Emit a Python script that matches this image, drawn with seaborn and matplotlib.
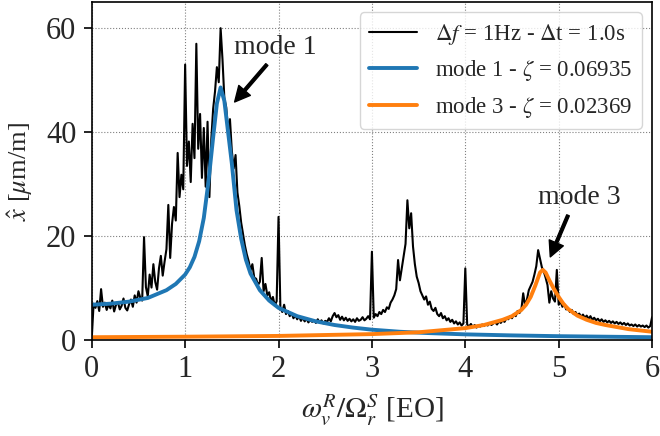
import numpy as np
import pandas as pd
import matplotlib
matplotlib.use("Agg")
import matplotlib.pyplot as plt
import seaborn as sns

# ---------------- data ----------------
# measured spectrum, sampled every 0.02 EO from 0 to 6
meas_amp = [
    0.3, 7.0, 6.2, 7.5, 5.6, 9.8, 6.4, 7.2, 5.8, 6.9,
    6.1, 7.6, 5.5, 6.8, 7.3, 5.9, 6.6, 8.0, 6.2, 5.7,
    6.9, 7.8, 6.4, 8.6, 7.2, 9.4, 8.1, 7.6, 19.8, 10.2,
    8.4, 12.6, 10.1, 14.6, 11.2, 9.7, 13.8, 16.2, 12.4, 15.1,
    17.5, 26.0, 15.8, 22.4, 25.6, 23.0, 36.0, 27.5, 31.8, 29.0,
    53.0, 33.5, 38.2, 30.4, 41.6, 35.0, 57.0, 36.8, 43.5, 31.2,
    40.8, 29.5, 42.0, 27.5, 38.6, 44.5, 47.8, 52.5, 49.6, 60.0,
    54.0, 46.5, 44.8, 40.2, 42.5, 36.4, 33.0, 35.6, 28.4, 25.8,
    22.6, 20.4, 18.2, 16.5, 15.2, 13.4, 14.6, 12.0, 11.8, 10.6,
    11.2, 15.8, 9.4, 10.8, 8.6, 9.2, 7.4, 8.3, 6.6, 7.5,
    23.7, 6.2, 5.4, 6.8, 5.0, 5.6, 4.6, 5.2, 4.2, 4.8,
    4.0, 4.6, 3.7, 4.3, 3.6, 4.1, 3.4, 3.9, 3.5, 3.8,
    3.3, 4.0, 3.4, 3.8, 3.2, 3.7, 3.5, 4.2, 3.6, 4.6,
    5.2, 4.4, 4.8, 3.9, 4.5, 3.8, 4.3, 3.7, 4.1, 3.6,
    4.0, 3.5, 4.2, 3.7, 3.9, 4.4, 3.8, 4.1, 4.6, 4.0,
    17.0, 4.3, 5.0, 4.6, 5.4, 5.0, 5.8, 5.4, 6.3, 6.0,
    7.2, 7.8, 8.6, 9.8, 15.4, 11.5, 13.8, 16.2, 18.5, 26.9,
    21.5, 24.4, 18.0, 14.6, 12.2, 11.0, 9.4, 8.6, 7.8, 8.4,
    6.8, 7.4, 6.0, 5.6, 6.2, 5.0, 4.6, 5.2, 4.2, 4.6,
    3.8, 4.2, 3.5, 3.9, 3.2, 3.6, 3.0, 3.4, 2.8, 3.2,
    13.8, 3.0, 2.6, 3.1, 2.5, 2.9, 2.4, 2.8, 2.6, 3.0,
    2.7, 3.1, 2.8, 3.3, 2.9, 3.2, 3.4, 3.0, 3.6, 3.3,
    3.8, 3.5, 4.2, 4.0, 4.6, 4.2, 5.0, 4.6, 5.6, 5.2,
    5.8, 9.0, 6.6, 7.8, 9.6, 10.4, 11.2, 12.6, 14.2, 17.3,
    15.6, 14.0, 13.2, 12.0, 10.6, 7.2, 9.4, 8.0, 7.4, 13.5,
    6.8, 7.4, 6.4, 6.9, 5.9, 6.2, 5.4, 5.8, 5.0, 5.4,
    4.8, 5.1, 4.5, 4.9, 4.3, 4.7, 4.1, 4.6, 3.9, 4.3,
    3.8, 4.1, 3.6, 4.0, 3.5, 3.8, 3.4, 3.7, 3.3, 3.6,
    3.2, 3.5, 3.1, 3.4, 3.0, 3.3, 2.9, 3.2, 2.8, 3.0,
    2.7, 3.0, 2.6, 2.9, 2.6, 2.8, 2.5, 2.8, 2.4, 2.7,
    4.4,
]
meas_freq = np.linspace(0.0, 6.0, len(meas_amp))

mode1_freq = [0, 0.2, 0.4, 0.6, 0.8, 0.9, 1.0, 1.05, 1.1, 1.15, 1.2, 1.25,
              1.3, 1.34, 1.38, 1.42, 1.46, 1.5, 1.55, 1.6, 1.65, 1.7, 1.8,
              1.9, 2.0, 2.2, 2.4, 2.6, 2.8, 3.0, 3.3, 3.6, 4.0, 4.5, 5.0,
              5.5, 6.0]
mode1_amp = [6.8, 7.0, 7.4, 8.1, 9.6, 10.8, 12.6, 14.0, 16.0, 19.0, 23.5,
             30.5, 39.0, 45.5, 48.6, 46.0, 40.0, 34.0, 25.0, 19.5, 15.5,
             12.8, 9.6, 7.6, 6.2, 4.6, 3.6, 2.9, 2.4, 2.0, 1.6, 1.35, 1.1,
             0.9, 0.75, 0.65, 0.55]

mode3_freq = [0, 1, 2, 3, 3.5, 4.0, 4.2, 4.4, 4.5, 4.6, 4.65, 4.7, 4.75,
              4.8, 4.83, 4.86, 4.9, 4.95, 5.0, 5.05, 5.1, 5.2, 5.3, 5.4,
              5.5, 5.75, 6.0]
mode3_amp = [0.55, 0.65, 0.8, 1.15, 1.5, 2.3, 2.9, 3.9, 4.6, 5.8, 6.8, 8.3,
             10.5, 13.0, 13.5, 13.0, 11.5, 9.8, 8.3, 7.0, 6.0, 4.7, 3.9,
             3.3, 2.9, 2.1, 1.6]

labels = [r"$\Delta f$ = 1Hz - $\Delta$t = 1.0s",
          r"mode 1 - $\zeta$ = 0.06935",
          r"mode 3 - $\zeta$ = 0.02369"]
x_ticks = [0, 1, 2, 3, 4, 5, 6]
y_ticks = [0, 20, 40, 60]

# ---------------- style ----------------
sns.set_style("ticks")
plt.rcParams["font.family"] = ["Liberation Serif", "DejaVu Serif"]
plt.rcParams["mathtext.fontset"] = "stix"

fig, ax = plt.subplots(figsize=(6.6, 4.36), dpi=100)
fig.subplots_adjust(left=0.139, right=0.988, bottom=0.220, top=0.995)

df_meas = pd.DataFrame({"f": meas_freq, "a": meas_amp})
df_m1 = pd.DataFrame({"f": mode1_freq, "a": mode1_amp})
df_m3 = pd.DataFrame({"f": mode3_freq, "a": mode3_amp})

sns.lineplot(data=df_meas, x="f", y="a", ax=ax, color="black", lw=1.5,
             estimator=None, sort=False, label=labels[0])
sns.lineplot(data=df_m1, x="f", y="a", ax=ax, color="#1f77b4", lw=2.8,
             estimator=None, sort=False, label=labels[1])
sns.lineplot(data=df_m3, x="f", y="a", ax=ax, color="#ff7f0e", lw=2.8,
             estimator=None, sort=False, label=labels[2])

ax.set_xlim(0, 6)
ax.set_ylim(0, 65)
ax.set_xticks(x_ticks)
ax.set_yticks(y_ticks)
ax.tick_params(labelsize=22, direction="out", length=6, width=1.2,
               color="black", pad=5)
ax.grid(True, linestyle=":", color="gray", lw=0.8)
for s in ax.spines.values():
    s.set_visible(True)
    s.set_color("black")
    s.set_linewidth(1.2)

ax.set_xlabel(r"$\omega_v^R/\Omega_r^S$ [EO]", fontsize=21, labelpad=6)
ax.set_ylabel(r"$\hat{x}$ [$\mu$m/m]", fontsize=19, labelpad=8)

arrow_kw = dict(facecolor="black", edgecolor="black", width=2.0,
                headwidth=11, headlength=11, shrink=0.0)
ax.text(1.97, 56.3, "mode 1", fontsize=20, ha="center", va="center")
ax.annotate("", xy=(1.53, 45.8), xytext=(1.875, 53.0), arrowprops=arrow_kw)
ax.text(5.22, 27.5, "mode 3", fontsize=20, ha="center", va="center")
ax.annotate("", xy=(4.91, 16.0), xytext=(5.10, 24.0), arrowprops=arrow_kw)

leg = ax.legend(loc="upper right", fontsize=16.5, frameon=True,
                borderaxespad=0.45, handlelength=2.1)

fig.savefig("out.png", dpi=100)
